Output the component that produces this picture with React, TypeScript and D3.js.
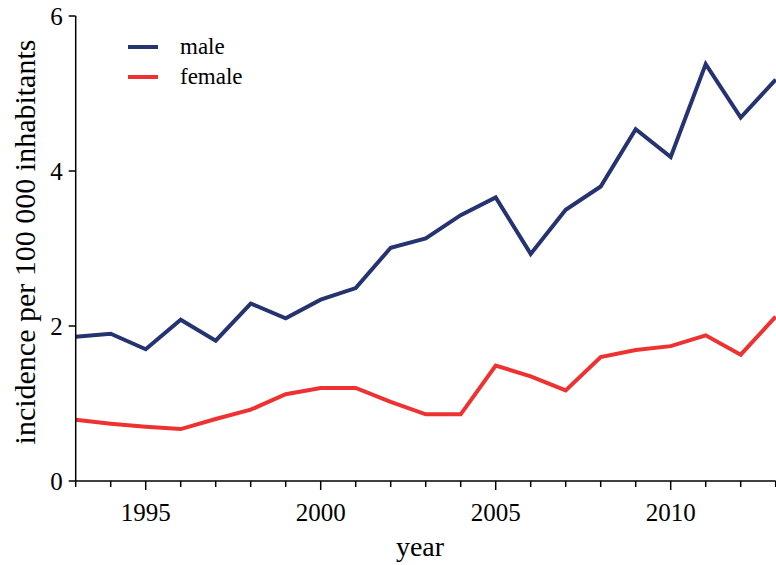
import React, { useEffect, useRef } from "react";
import * as d3 from "d3";

const years = d3.range(1993, 2014);
const male = [1.86, 1.9, 1.7, 2.08, 1.81, 2.29, 2.1, 2.34, 2.49, 3.01, 3.13, 3.43, 3.66, 2.93, 3.5, 3.8, 4.54, 4.18, 5.38, 4.69, 5.18];
const female = [0.79, 0.74, 0.7, 0.67, 0.8, 0.92, 1.12, 1.2, 1.2, 1.02, 0.86, 0.86, 1.49, 1.35, 1.17, 1.6, 1.69, 1.74, 1.88, 1.63, 2.12];
const yTicks = [0, 2, 4, 6];
const xMajor = [1995, 2000, 2005, 2010];
const seriesNames = ["male", "female"];
const seriesColors = ["#253371", "#ee3231"];

const App = () => {
  const svgRef = useRef<SVGSVGElement>(null);

  useEffect(() => {
    const width = 776;
    const height = 565;
    const marginLeft = 75.7;
    const marginRight = 0.3;
    const marginTop = 16;
    const marginBottom = 84;
    const font = "Liberation Serif, Times New Roman, DejaVu Serif, Noto Serif, serif";

    const x = d3.scaleLinear().domain([1993, 2013]).range([marginLeft, width - marginRight]);
    const y = d3.scaleLinear().domain([0, 6]).range([height - marginBottom, marginTop]);

    const svg = d3.select(svgRef.current);
    svg.selectAll("*").remove();
    svg
      .attr("width", width)
      .attr("height", height)
      .attr("viewBox", [0, 0, width, height])
      .attr("font-family", font);

    // lines
    const line = d3
      .line<number>()
      .x((_, i) => x(years[i]))
      .y((d) => y(d));
    [male, female].forEach((vals, i) => {
      svg
        .append("path")
        .attr("fill", "none")
        .attr("stroke", seriesColors[i])
        .attr("stroke-width", 4)
        .attr("d", line(vals));
    });

    // x axis: minor ticks every year, longer ones on the labelled years
    const xAxis = svg.append("g").attr("transform", `translate(0,${y(0)})`);
    xAxis
      .append("line")
      .attr("x1", marginLeft)
      .attr("x2", width - marginRight)
      .attr("stroke", "black")
      .attr("stroke-width", 1.5);
    xAxis
      .selectAll("line.tick")
      .data(years)
      .join("line")
      .attr("class", "tick")
      .attr("x1", (d) => x(d))
      .attr("x2", (d) => x(d))
      .attr("y1", 0)
      .attr("y2", (d) => (xMajor.includes(d) ? 9 : 6))
      .attr("stroke", "black")
      .attr("stroke-width", 1.5);
    xAxis
      .selectAll("text")
      .data(xMajor)
      .join("text")
      .attr("x", (d) => x(d))
      .attr("y", 40)
      .attr("text-anchor", "middle")
      .attr("font-size", 25)
      .text((d) => d);
    svg
      .append("text")
      .attr("x", 420)
      .attr("y", 556)
      .attr("text-anchor", "middle")
      .attr("font-size", 28)
      .text("year");

    // y axis
    const yAxis = svg.append("g").attr("transform", `translate(${marginLeft},0)`);
    yAxis
      .append("line")
      .attr("y1", y(0))
      .attr("y2", y(6))
      .attr("stroke", "black")
      .attr("stroke-width", 1.5);
    yAxis
      .selectAll("line.tick")
      .data(yTicks)
      .join("line")
      .attr("class", "tick")
      .attr("x1", -7)
      .attr("x2", 0)
      .attr("y1", (d) => y(d))
      .attr("y2", (d) => y(d))
      .attr("stroke", "black")
      .attr("stroke-width", 1.5);
    yAxis
      .selectAll("text")
      .data(yTicks)
      .join("text")
      .attr("x", -13)
      .attr("y", (d) => y(d) + 8.5)
      .attr("text-anchor", "end")
      .attr("font-size", 25)
      .text((d) => d);
    svg
      .append("text")
      .attr("transform", `translate(35,242) rotate(-90)`)
      .attr("text-anchor", "middle")
      .attr("font-size", 30)
      .text("incidence per 100 000 inhabitants");

    // legend
    const legend = svg
      .selectAll("g.legend")
      .data(seriesNames)
      .join("g")
      .attr("class", "legend")
      .attr("transform", (_, i) => `translate(128,${47 + i * 30})`);
    legend
      .append("line")
      .attr("x1", 0)
      .attr("x2", 30)
      .attr("stroke", (_, i) => seriesColors[i])
      .attr("stroke-width", 4);
    legend
      .append("text")
      .attr("x", 52)
      .attr("y", 7)
      .attr("font-size", 23)
      .text((d) => d);
  }, []);

  return (
    <div style={{ position: "absolute", left: 0, top: 0 }}>
      <svg ref={svgRef} style={{ display: "block", background: "white" }} />
    </div>
  );
};

export default App;
